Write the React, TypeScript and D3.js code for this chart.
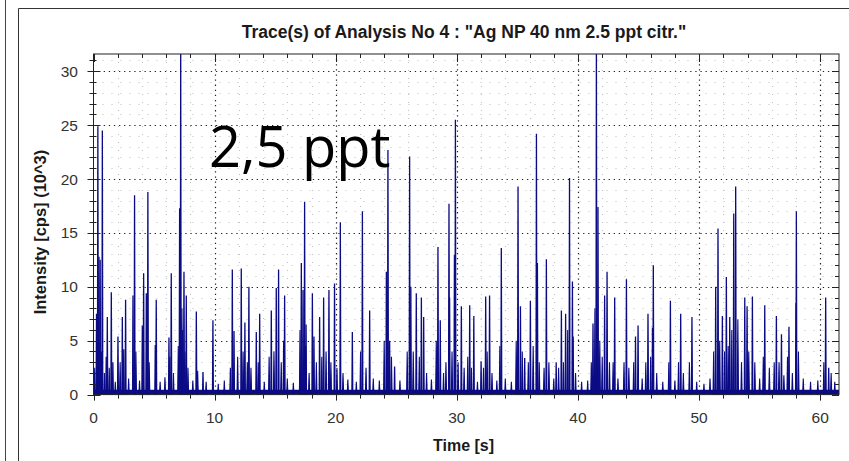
import React from "react";
import * as d3 from "d3";

const TITLE = 'Trace(s) of Analysis No 4 : "Ag NP 40 nm 2.5 ppt citr."';
const X_LABEL = "Time [s]";
const Y_LABEL = "Intensity [cps] (10^3)";
const OVERLAY = "2,5 ppt";

const xTicks = [0, 10, 20, 30, 40, 50, 60];
const yTicks = [0, 5, 10, 15, 20, 25, 30];

// Main particle events (time in s, intensity in 10^3 cps)
const peakTimes = [
  0.25, 0.36, 0.45, 0.55, 0.73, 1.05, 1.14, 1.47, 1.6, 2.02, 2.38, 2.5, 2.65, 3.26, 3.39,
  4.03, 4.14, 4.36, 4.49, 5.1, 5.18, 6.23, 6.42, 7.11, 7.2, 7.35, 7.47, 7.66, 8.49, 9.04,
  9.86, 11.46, 11.6, 12.2, 12.5, 12.83, 13.44, 13.72, 14.68, 15.09, 15.28, 15.7, 15.78,
  17.16, 17.3, 17.43, 17.55, 18.07, 18.2, 18.67, 19.0, 19.44, 19.9, 20.38, 21.37, 22.2,
  22.8, 24.18, 24.31, 24.45, 24.86, 26.1, 26.2, 26.65, 27.07, 27.26, 28.44, 28.63, 29.35,
  29.4, 29.8, 29.88, 30.37, 31.06, 31.4, 32.0, 32.38, 32.7, 33.67, 35.05, 35.25, 35.6,
  36.07, 36.57, 36.65, 37.39, 38.2, 38.63, 38.98, 39.3, 39.54, 39.6, 41.24, 41.52, 41.65,
  42.2, 42.4, 43.03, 44.0, 44.75, 44.96, 45.78, 46.15, 46.22, 47.63, 48.48, 49.41, 51.37,
  51.56, 51.92, 52.25, 52.53, 52.86, 53.02, 53.77, 53.96, 54.4, 55.42, 56.38, 56.8, 57.42,
  58.0, 58.03, 60.45, 60.7,
];
const peakValues = [
  7.5, 24.9, 12.8, 12.5, 24.5, 3.5, 7.2, 9.5, 3.0, 5.4, 7.2, 4.2, 8.8, 9.2, 18.5,
  6.4, 11.25, 9.4, 18.8, 4.6, 8.8, 5.3, 11.25, 17.3, 33, 6, 11.4, 9.2, 7.7, 2.1,
  6.9, 11.6, 5.9, 11.7, 6.7, 10.0, 5.8, 7.5, 7.8, 9.9, 11.6, 5.0, 9.2,
  12.2, 9.7, 17.9, 6.5, 9.4, 5.4, 7.2, 9.0, 9.7, 10.3, 16.0, 5.8, 17.0,
  7.8, 11.4, 22.7, 5, 2.6, 22.1, 10.0, 9.4, 9.0, 7.2, 13.7, 6.9, 17.7,
  9.0, 12.95, 25.5, 8.2, 8.3, 7.3, 3.1, 9.1, 9.2, 13.6, 19.3, 8.2, 3.4,
  8.7, 24.2, 12.2, 12.55, 3.0, 7.8, 7.5, 20.1, 10.5, 5.4, 6.6, 33, 17.4,
  9.2, 11.4, 9.0, 10.7, 5.4, 6.4, 7.5, 6.2, 12.0, 8.7, 7.5, 7.2, 10.0,
  15.4, 7.3, 10.9, 7.2, 16.8, 19.3, 9.0, 8.2, 9.1, 8.3, 7.3, 5.6, 6.3,
  8.5, 17.0, 9.0, 2.5,
];

// Smaller events / shoulders
const minorTimes = [
  0.1, 0.65, 0.9, 1.3, 1.8, 2.2, 2.9, 3.5, 3.8, 4.6, 5.5, 5.9, 6.3, 6.6, 7.0, 7.3, 7.55,
  7.8, 8.2, 8.6, 9.3, 10.3, 10.8, 11.3, 11.9, 12.35, 12.7, 13.0, 13.6, 14.1, 14.5, 14.9,
  15.5, 16.0, 16.5, 17.05, 17.5, 17.8, 18.4, 18.85, 19.2, 19.6, 20.1, 20.6, 21.0, 21.7,
  22.05, 22.5, 23.1, 23.6, 24.0, 24.6, 25.3, 25.9, 26.4, 26.9, 27.5, 27.9, 28.3, 28.9,
  29.1, 29.6, 30.1, 30.6, 30.9, 31.2, 31.7, 32.2, 32.5, 32.9, 33.3, 33.55, 34.0, 34.5,
  34.9, 35.4, 35.9, 36.3, 36.8, 37.2, 37.6, 38.0, 38.4, 38.8, 39.15, 39.8, 40.3, 40.8,
  41.1, 41.4, 41.8, 42.0, 42.6, 42.9, 43.3, 43.8, 44.2, 44.6, 45.3, 45.6, 46.0, 46.5,
  47.0, 47.5, 48.0, 48.3, 48.7, 49.2, 49.8, 50.4, 50.9, 51.2, 51.7, 52.1, 52.4, 52.7,
  53.2, 53.5, 54.1, 54.6, 55.0, 55.3, 55.8, 56.2, 56.6, 57.0, 57.3, 57.7, 58.2, 58.6,
  59.2, 59.8, 60.3, 60.9, 61.2,
];
const minorValues = [
  2.5, 4, 2, 2.5, 1.2, 3, 1.5, 4, 1.3, 3, 1.2, 1.6, 3.5, 2, 4.5, 8, 4,
  2.5, 1.3, 2.2, 1.2, 1.0, 1.3, 2.5, 3.5, 4, 3, 2.5, 3, 1.2, 3.5, 4,
  3, 1.5, 1.1, 6, 4.5, 2, 3, 3.5, 4, 3, 2.5, 2, 1.4, 1.2,
  4, 2.5, 1.5, 1.3, 5, 3.5, 1.3, 4, 4, 3.5, 2, 1.4, 5, 2,
  3, 4, 3, 2.5, 3.5, 2.5, 1.2, 2.5, 4, 2, 1.3, 4.5, 1.5, 1.2,
  5, 4, 3, 4.5, 3, 2.5, 3, 1.5, 2.5, 3, 6, 2, 1.2, 1.3,
  3, 8, 5, 3.5, 3, 3, 1.5, 3, 2.5, 3, 1.5, 3, 3.5, 2,
  1.2, 3, 1.3, 3, 2, 3, 1.2, 1.0, 1.5, 4, 5, 4, 4.5, 6,
  7, 3, 4, 3, 1.5, 3.5, 2.5, 3, 3, 1.8, 3.5, 2, 4, 1.5,
  1.2, 1.3, 3, 2, 1.2,
];

const BASELINE = 0.45;

const W = 849;
const H = 461;
const PL = 93.5;
const PR = 839;
const PT = 54;
const PB = 394.6;
const NAVY = "#0b0b85";

export default function App() {
  const x = d3.scaleLinear().domain([0, 61.55]).range([PL, PR]);
  const y = d3.scaleLinear().domain([0, 31.6]).range([PB, PT]);
  const line = d3.line<[number, number]>().x((d) => x(d[0])).y((d) => y(d[1]));

  const spike = (t: number, v: number, w: number) =>
    line([
      [t - w, 0],
      [t, v],
      [t + w, 0],
    ]) + "Z";

  const majorY = yTicks.filter((v) => v > 0);
  const majorX = xTicks.filter((v) => v > 0);
  const minorY = d3.range(1, 32).filter((v) => v % 5 !== 0);
  const minorX = d3.range(2, 62, 2).filter((v) => v % 10 !== 0);
  const allYTicks = d3.range(0, 32);
  const allXTicks = d3.range(0, 62, 2);

  const font = "Arial, 'Liberation Sans', sans-serif";

  return (
    <svg
      width={W}
      height={H}
      style={{ position: "fixed", left: 0, top: 0, background: "#fff" }}
      fontFamily={font}
    >
      <rect x={0} y={0} width={W} height={H} fill="#fff" />
      {/* outer frames */}
      <line x1={5.5} y1={0} x2={5.5} y2={H} stroke="#444" strokeWidth={1} />
      <line x1={18.5} y1={8.5} x2={18.5} y2={H} stroke="#333" strokeWidth={1} />
      <line x1={18.5} y1={8.5} x2={W} y2={8.5} stroke="#333" strokeWidth={1} />

      <text x={464} y={38} textAnchor="middle" fontSize={17.5} fontWeight="bold" fill="#1a1a1a">
        {TITLE}
      </text>

      <defs>
        <clipPath id="plotclip">
          <rect x={PL} y={PT} width={PR - PL} height={PB - PT} />
        </clipPath>
      </defs>

      {/* minor grid */}
      <g stroke="#bdbdbd" strokeWidth={1} fill="none">
        {minorY.map((v) => (
          <line key={"my" + v} x1={PL} x2={PR} y1={Math.round(y(v)) + 0.5} y2={Math.round(y(v)) + 0.5} strokeDasharray="1 8" />
        ))}
        {minorX.map((v) => (
          <line key={"mx" + v} y1={PT} y2={PB} x1={Math.round(x(v)) + 0.5} x2={Math.round(x(v)) + 0.5} strokeDasharray="1 7" />
        ))}
      </g>
      {/* major grid */}
      <g stroke="#222" strokeWidth={1.2} fill="none">
        {majorY.map((v) => (
          <line key={"gy" + v} x1={PL} x2={PR} y1={Math.round(y(v)) + 0.5} y2={Math.round(y(v)) + 0.5} strokeDasharray="1.3 3.8" />
        ))}
        {majorX.map((v) => (
          <line key={"gx" + v} y1={PT} y2={PB} x1={Math.round(x(v)) + 0.5} x2={Math.round(x(v)) + 0.5} strokeDasharray="1.3 3.8" />
        ))}
      </g>

      {/* trace */}
      <g clipPath="url(#plotclip)">
        <rect x={PL} y={y(BASELINE)} width={PR - PL} height={y(0) - y(BASELINE)} fill={NAVY} />
        {minorTimes.map((t, i) => (
          <path key={"mp" + i} d={spike(t, minorValues[i], 0.05)} fill={NAVY} stroke={NAVY} strokeWidth={1.1} />
        ))}
        {peakTimes.map((t, i) => (
          <path key={"pk" + i} d={spike(t, peakValues[i], 0.035)} fill={NAVY} stroke={NAVY} strokeWidth={1.3} />
        ))}
      </g>

      {/* frame */}
      <rect x={PL} y={PT} width={PR - PL} height={PB - PT} fill="none" stroke="#222" strokeWidth={1} />

      {/* axis ticks */}
      <g stroke="#222" strokeWidth={1}>
        {allYTicks.map((v) => {
          const yy = Math.round(y(v)) + 0.5;
          const major = v % 5 === 0;
          return <line key={"ly" + v} x1={major ? PL - 6 : PL - 4} x2={major ? PL + 7 : PL + 3} y1={yy} y2={yy} />;
        })}
        {allYTicks.map((v) => {
          const yy = Math.round(y(v)) + 0.5;
          const major = v % 5 === 0;
          return <line key={"ry" + v} x1={PR} x2={major ? PR - 7 : PR - 4} y1={yy} y2={yy} />;
        })}
        {allXTicks.map((v) => {
          const xx = Math.round(x(v)) + 0.5;
          const major = v % 10 === 0;
          return <line key={"bx" + v} y1={PB} y2={major ? PB + 6 : PB + 4} x1={xx} x2={xx} />;
        })}
        {allXTicks.map((v) => {
          const xx = Math.round(x(v)) + 0.5;
          const major = v % 10 === 0;
          return <line key={"tx" + v} y1={PT} y2={major ? PT + 8 : PT + 4} x1={xx} x2={xx} />;
        })}
      </g>

      {/* tick labels */}
      <g fontSize={15.5} fill="#333">
        {yTicks.map((v) => (
          <text key={"yl" + v} x={78} y={y(v)} textAnchor="end" dominantBaseline="central">
            {v}
          </text>
        ))}
        {xTicks.map((v) => (
          <text key={"xl" + v} x={x(v)} y={423} textAnchor="middle">
            {v}
          </text>
        ))}
      </g>

      <text x={433} y={451} fontSize={16} fontWeight="bold" fill="#1a1a1a">
        {X_LABEL}
      </text>
      <text
        transform={`translate(40,232) rotate(-90)`}
        textAnchor="middle"
        dominantBaseline="central"
        fontSize={16.5}
        fontWeight="bold"
        fill="#1a1a1a"
      >
        {Y_LABEL}
      </text>

      <text x={209} y={167} fontSize={56} fontFamily="'Open Sans', sans-serif" fill="#000">
        {OVERLAY}
      </text>
    </svg>
  );
}
